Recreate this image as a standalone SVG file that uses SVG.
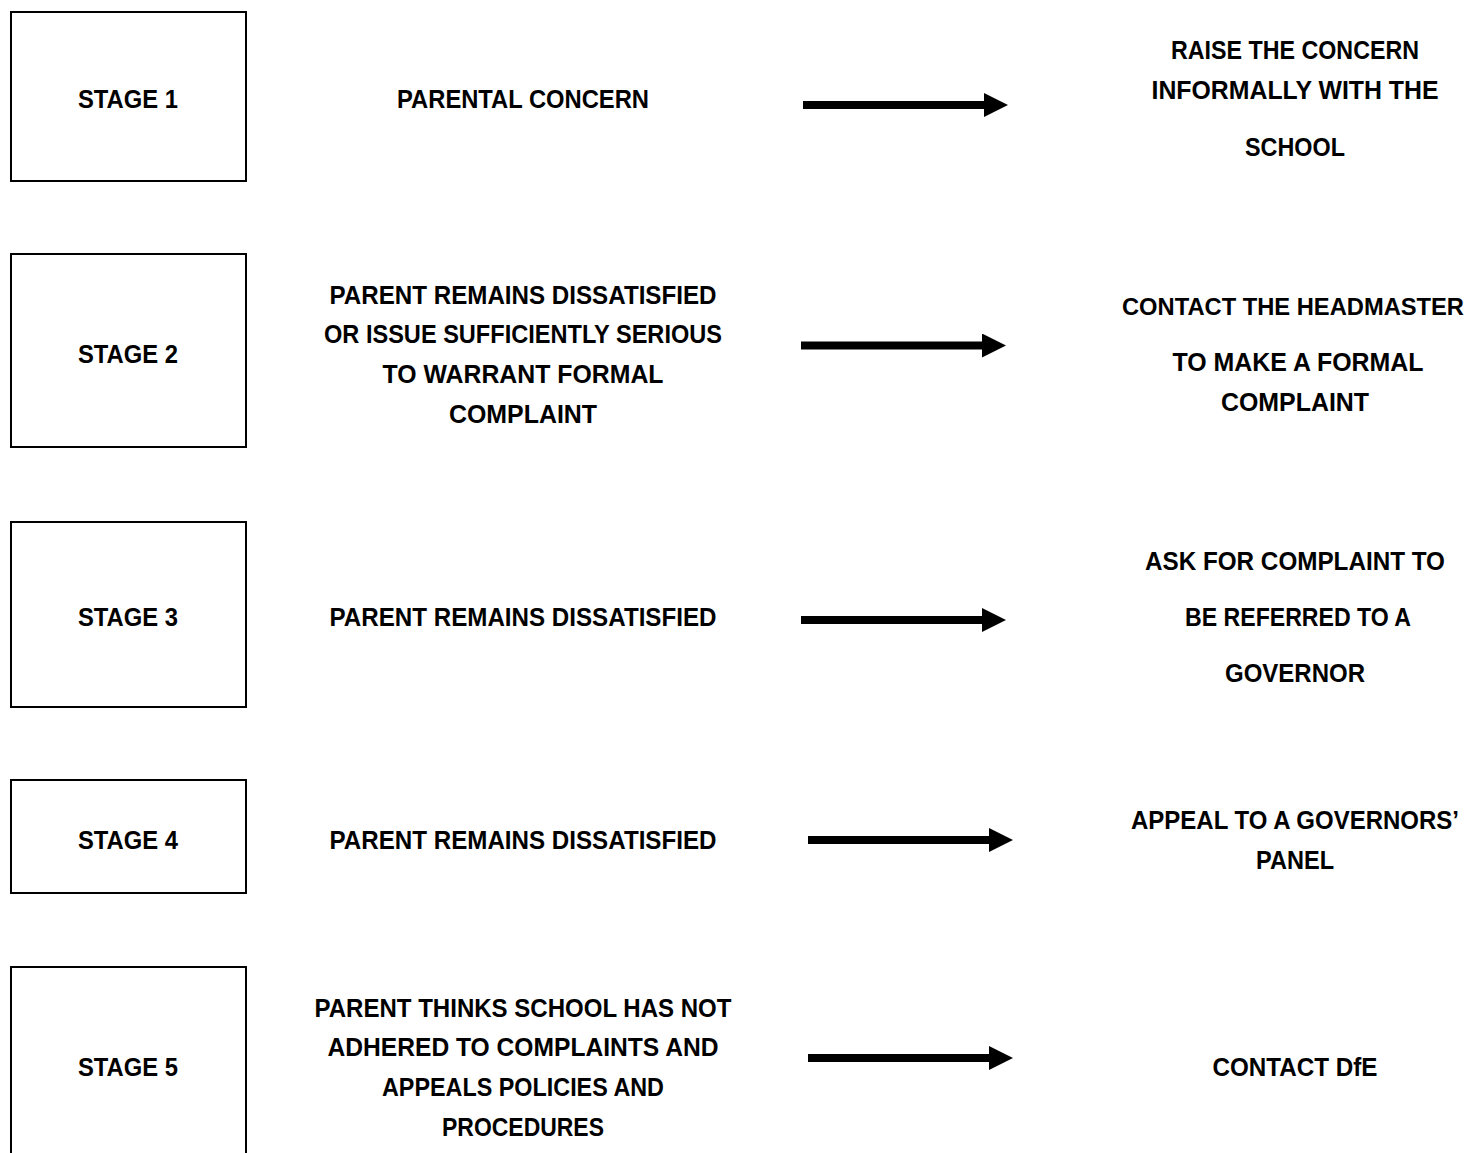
<svg xmlns="http://www.w3.org/2000/svg" width="1472" height="1153" viewBox="0 0 1472 1153">
<style>
.box{fill:#fff;stroke:#000;stroke-width:2}
text{font-family:"Liberation Sans",Arial,sans-serif;font-weight:bold;font-size:25px;fill:#000;text-anchor:middle}
.arr{stroke:#000;stroke-width:8;fill:none}
</style>
<defs>
<marker id="ah" markerUnits="userSpaceOnUse" markerWidth="24" markerHeight="24" refX="0" refY="12" orient="auto">
<path d="M0,0 L24,12 L0,24 Z" fill="#000"/>
</marker>
</defs>
<rect width="1472" height="1153" fill="#fff"/>
<g id="stage1">
<rect class="box" x="11" y="12" width="235" height="169"/>
<text x="128" y="108" textLength="100" lengthAdjust="spacingAndGlyphs">STAGE 1</text>
<text x="523" y="108" textLength="252" lengthAdjust="spacingAndGlyphs">PARENTAL CONCERN</text>
<text x="1295" y="59" textLength="248" lengthAdjust="spacingAndGlyphs">RAISE THE CONCERN</text>
<text x="1295" y="99" textLength="287" lengthAdjust="spacingAndGlyphs">INFORMALLY WITH THE</text>
<text x="1295" y="156" textLength="100" lengthAdjust="spacingAndGlyphs">SCHOOL</text>
</g>
<g id="stage2">
<rect class="box" x="11" y="254" width="235" height="193"/>
<text x="128" y="363" textLength="100" lengthAdjust="spacingAndGlyphs">STAGE 2</text>
<text x="523" y="304" textLength="387" lengthAdjust="spacingAndGlyphs">PARENT REMAINS DISSATISFIED</text>
<text x="523" y="343" textLength="398" lengthAdjust="spacingAndGlyphs">OR ISSUE SUFFICIENTLY SERIOUS</text>
<text x="523" y="383" textLength="281" lengthAdjust="spacingAndGlyphs">TO WARRANT FORMAL</text>
<text x="523" y="423" textLength="148" lengthAdjust="spacingAndGlyphs">COMPLAINT</text>
<text x="1293" y="315" style="font-size:24px" textLength="342" lengthAdjust="spacingAndGlyphs">CONTACT THE HEADMASTER</text>
<text x="1298" y="371" textLength="251" lengthAdjust="spacingAndGlyphs">TO MAKE A FORMAL</text>
<text x="1295" y="411" textLength="148" lengthAdjust="spacingAndGlyphs">COMPLAINT</text>
</g>
<g id="stage3">
<rect class="box" x="11" y="522" width="235" height="185"/>
<text x="128" y="626" textLength="100" lengthAdjust="spacingAndGlyphs">STAGE 3</text>
<text x="523" y="626" textLength="387" lengthAdjust="spacingAndGlyphs">PARENT REMAINS DISSATISFIED</text>
<text x="1295" y="570" textLength="300" lengthAdjust="spacingAndGlyphs">ASK FOR COMPLAINT TO</text>
<text x="1298" y="626" textLength="226" lengthAdjust="spacingAndGlyphs">BE REFERRED TO A</text>
<text x="1295" y="682" textLength="140" lengthAdjust="spacingAndGlyphs">GOVERNOR</text>
</g>
<g id="stage4">
<rect class="box" x="11" y="780" width="235" height="113"/>
<text x="128" y="849" textLength="100" lengthAdjust="spacingAndGlyphs">STAGE 4</text>
<text x="523" y="849" textLength="387" lengthAdjust="spacingAndGlyphs">PARENT REMAINS DISSATISFIED</text>
<text x="1295" y="829" textLength="328" lengthAdjust="spacingAndGlyphs">APPEAL TO A GOVERNORS’</text>
<text x="1295" y="869" textLength="78" lengthAdjust="spacingAndGlyphs">PANEL</text>
</g>
<g id="stage5">
<rect class="box" x="11" y="967" width="235" height="200"/>
<text x="128" y="1076" textLength="100" lengthAdjust="spacingAndGlyphs">STAGE 5</text>
<text x="523" y="1017" textLength="417" lengthAdjust="spacingAndGlyphs">PARENT THINKS SCHOOL HAS NOT</text>
<text x="523" y="1056" textLength="391" lengthAdjust="spacingAndGlyphs">ADHERED TO COMPLAINTS AND</text>
<text x="523" y="1096" textLength="282" lengthAdjust="spacingAndGlyphs">APPEALS POLICIES AND</text>
<text x="523" y="1136" textLength="162" lengthAdjust="spacingAndGlyphs">PROCEDURES</text>
<text x="1295" y="1076" textLength="165" lengthAdjust="spacingAndGlyphs">CONTACT DfE</text>
</g>
<g id="connectors">
<line class="arr" x1="803" y1="105" x2="984" y2="105" marker-end="url(#ah)"/>
<line class="arr" x1="801" y1="345.5" x2="982" y2="345.5" marker-end="url(#ah)"/>
<line class="arr" x1="801" y1="620" x2="982" y2="620" marker-end="url(#ah)"/>
<line class="arr" x1="808" y1="840" x2="989" y2="840" marker-end="url(#ah)"/>
<line class="arr" x1="808" y1="1058" x2="989" y2="1058" marker-end="url(#ah)"/>
</g>
</svg>
